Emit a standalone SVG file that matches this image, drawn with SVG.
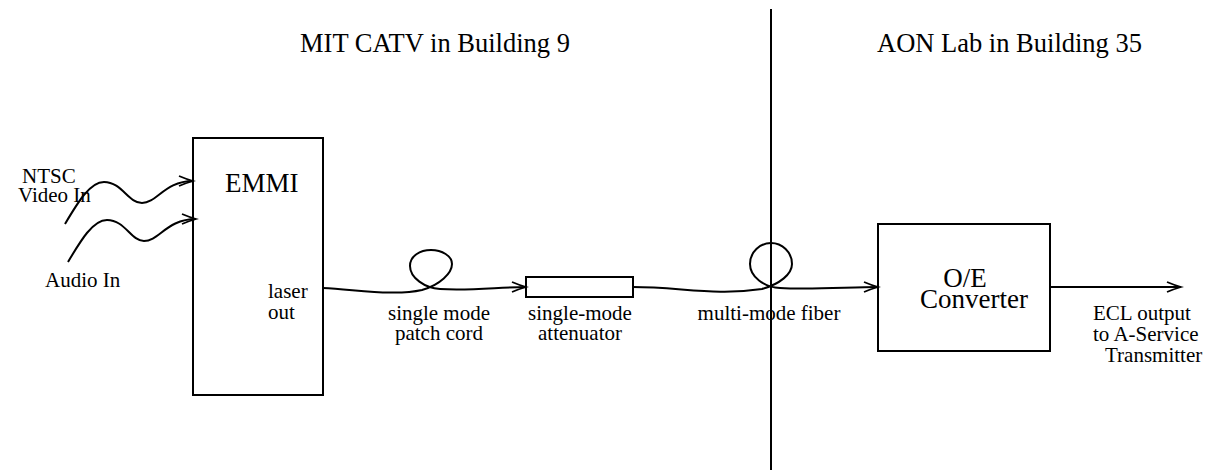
<svg xmlns="http://www.w3.org/2000/svg" width="1209" height="476" viewBox="0 0 1209 476">
<defs>
<style>
.ln{fill:none;stroke:#000;stroke-width:2}
.bx{fill:#fff;stroke:#000;stroke-width:2}
text{font-family:"Liberation Serif","Times New Roman",serif;fill:#000}
.t{font-size:26.5px}
.b{font-size:27px}
.l{font-size:21px}
.m{text-anchor:middle}
</style>
<marker id="ah" markerUnits="userSpaceOnUse" markerWidth="18" markerHeight="14" refX="15" refY="6" orient="auto">
<path d="M1,1 Q8,4 15,6 Q8,8 1,11" fill="none" stroke="#000" stroke-width="1.8"/>
</marker>
</defs>
<rect width="1209" height="476" fill="#fff"/>
<line x1="771" y1="9" x2="771" y2="470" stroke="#000" stroke-width="2"/>
<text class="t" x="300" y="52">MIT CATV in Building 9</text>
<text class="t" x="877" y="52">AON Lab in Building 35</text>
<g id="emmi">
<rect class="bx" x="193" y="138" width="130" height="257"/>
<text class="b" x="225" y="192">EMMI</text>
<text class="l" x="268" y="298">laser</text>
<text class="l" x="268" y="319">out</text>
</g>
<g id="attenuator">
<rect class="bx" x="526" y="277" width="107" height="20"/>
</g>
<g id="oe">
<rect class="bx" x="878" y="224" width="172" height="127"/>
<text class="b m" x="965" y="287">O/E</text>
<text class="b m" x="974" y="308">Converter</text>
</g>
<g id="labels">
<text class="l" x="22" y="183">NTSC</text>
<text class="l" x="18" y="202">Video In</text>
<text class="l" x="45" y="287">Audio In</text>
<text class="l m" x="439" y="320">single mode</text>
<text class="l m" x="439" y="340">patch cord</text>
<text class="l m" x="580" y="320">single-mode</text>
<text class="l m" x="580" y="340">attenuator</text>
<text class="l m" x="769" y="320">multi-mode fiber</text>
<text class="l" x="1093" y="320">ECL output</text>
<text class="l" x="1093" y="341">to A-Service</text>
<text class="l" x="1105" y="362">Transmitter</text>
</g>
<g id="connectors">
<path class="ln" marker-end="url(#ah)" d="M65,224 C78,202 90,182 104,182 C122,182 128,203 142,203 C157,203 165,181 193,181"/>
<path class="ln" marker-end="url(#ah)" d="M68,262 C81,240 93,220 107,220 C125,220 131,241 144,241 C159,241 167,219 196,219"/>
<path class="ln" marker-end="url(#ah)" d="M323,288 C360,290 395,296 422,290 C440,285 452,273 452,264 C452,256 442,250 431,250 C420,250 410,256 410,266 C410,278 425,288 440,289 C470,291 500,287 526,287"/>
<path class="ln" marker-end="url(#ah)" d="M633,287 C680,287 715,296 762,289 C780,284 792,274 792,264 C792,252 782,243 771,243 C760,243 750,252 750,264 C750,277 764,287 780,288 C810,290 850,287 878,287"/>
<path class="ln" marker-end="url(#ah)" d="M1050,287 L1181,287"/>
</g>
</svg>
